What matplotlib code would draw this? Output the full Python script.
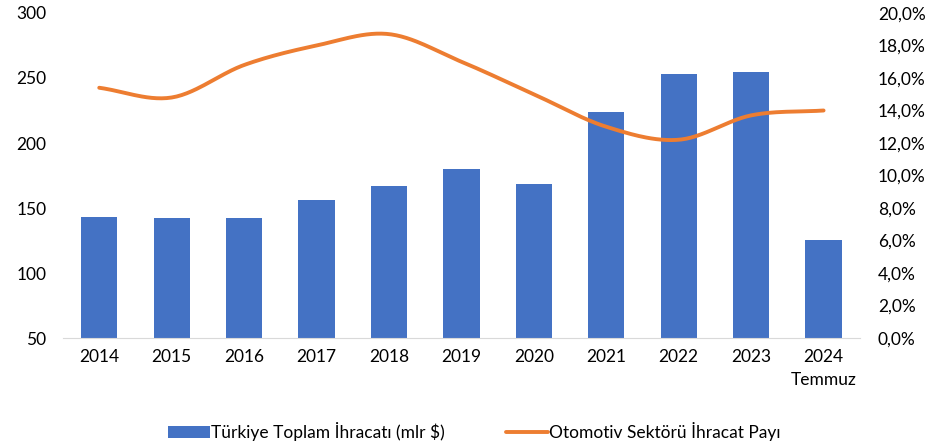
import numpy as np
import matplotlib.pyplot as plt
from matplotlib.ticker import FuncFormatter

years = ['2014', '2015', '2016', '2017', '2018', '2019', '2020', '2021', '2022', '2023', '2024\nTemmuz']
exports = [143, 142, 142, 156, 167, 180, 168.5, 224, 253, 254.5, 125.5]
auto_share = [15.4, 14.8, 16.8, 18.0, 18.7, 17.0, 15.0, 13.0, 12.2, 13.7, 14.0]

plt.rcParams['font.family'] = ['Lato', 'DejaVu Sans']


def smooth(x, y, n=30):
    # Catmull-Rom curve, like Excel's smoothed line
    x = np.asarray(x, float)
    y = np.asarray(y, float)
    px = np.concatenate([[2 * x[0] - x[1]], x, [2 * x[-1] - x[-2]]])
    py = np.concatenate([[2 * y[0] - y[1]], y, [2 * y[-1] - y[-2]]])
    xs, ys = [], []
    t = np.linspace(0, 1, n)
    for i in range(1, len(px) - 2):
        for p, out in ((px, xs), (py, ys)):
            p0, p1, p2, p3 = p[i - 1], p[i], p[i + 1], p[i + 2]
            out.extend(0.5 * (2 * p1 + (-p0 + p2) * t + (2 * p0 - 5 * p1 + 4 * p2 - p3) * t ** 2
                              + (-p0 + 3 * p1 - 3 * p2 + p3) * t ** 3))
    return np.array(xs), np.array(ys)


fig = plt.figure(figsize=(9.49, 4.45), dpi=100)
ax = fig.add_axes([0.0664, 0.2404, 0.8396, 0.7304])
x = np.arange(len(years))
bars = ax.bar(x, np.array(exports) - 50, bottom=50, width=0.5, color='#4472C4',
              label='Türkiye Toplam İhracatı (mlr $)', zorder=2)
ax.set_ylim(50, 300)
ax.set_yticks(range(50, 301, 50))
ax.set_xlim(-0.5, len(years) - 0.5)
ax.set_xticks(x)
ax.set_xticklabels(years, fontsize=12, linespacing=1.5, va='top')
for s in ['top', 'right', 'left']:
    ax.spines[s].set_visible(False)
ax.spines['bottom'].set_color('#D9D9D9')
ax.tick_params(length=0, labelsize=12.5)
ax.tick_params(axis='x', pad=8)
ax.tick_params(axis='y', pad=12)

ax2 = ax.twinx()
sx, sy = smooth(x, auto_share)
line, = ax2.plot(sx, sy, color='#ED7D31', lw=2.8, solid_capstyle='round',
                 label='Otomotiv Sektörü İhracat Payı', zorder=3)
ax2.set_ylim(0, 20)
ax2.set_yticks(range(0, 21, 2))
ax2.yaxis.set_major_formatter(FuncFormatter(lambda v, p: f'{v:.1f}%'.replace('.', ',')))
for s in ax2.spines.values():
    s.set_visible(False)
ax2.tick_params(length=0, labelsize=12.5, pad=13)

fig.legend([bars, line], ['Türkiye Toplam İhracatı (mlr $)', 'Otomotiv Sektörü İhracat Payı'],
           loc='center', bbox_to_anchor=(0.5, 0.03), ncol=2, frameon=False, fontsize=12.5,
           handlelength=2.4, handletextpad=0.1, columnspacing=3.5)

fig.savefig('out.png', dpi=100)
